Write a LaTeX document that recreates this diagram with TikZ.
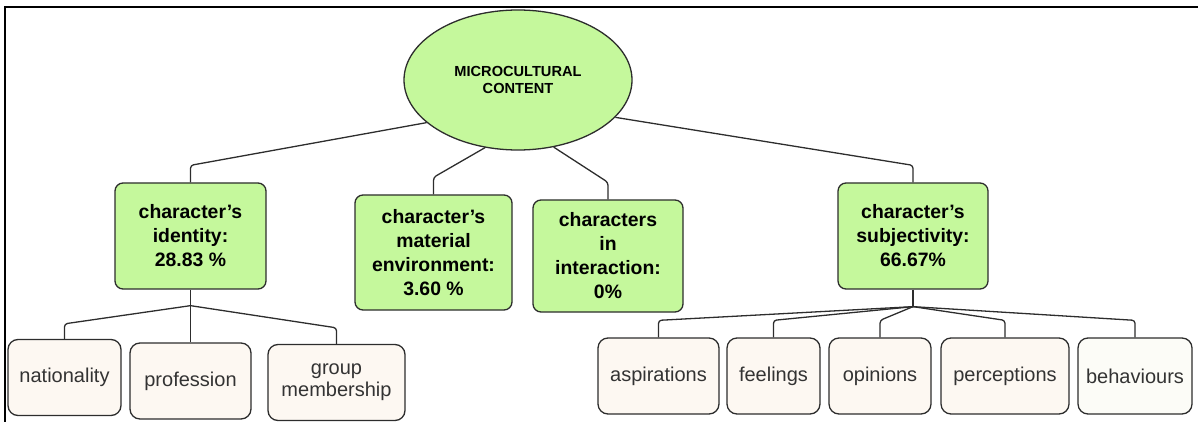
\documentclass[tikz,border=0pt]{standalone}
\usepackage{fontspec}
\setmainfont{Liberation Sans}
\usetikzlibrary{shapes,positioning}
\definecolor{ideagreen}{RGB}{197,248,156}
\definecolor{itemcream}{RGB}{253,248,242}
\definecolor{itemwhite}{RGB}{252,252,247}
\definecolor{edgegray}{RGB}{45,45,45}
\tikzstyle{branch} = [draw, edgegray, line width=0.65pt, rounded corners=1.5pt]
\tikzstyle{topic} = [ellipse, draw=edgegray, fill=ideagreen, line width=0.65pt, minimum width=114pt, minimum height=70pt, inner sep=0pt, align=center, font=\fontsize{7.3}{8.5}\selectfont\bfseries]
\tikzstyle{theme} = [rectangle, draw=edgegray, fill=ideagreen, rounded corners=4pt, line width=0.65pt, inner sep=0pt, align=center, font=\fontsize{9.7}{12}\selectfont\bfseries]
\tikzstyle{facet} = [rectangle, draw=edgegray, fill=itemcream, rounded corners=5pt, line width=0.65pt, inner sep=0pt, minimum height=38pt, align=center, text=black!80, font=\fontsize{10}{11}\selectfont]

\begin{document}
\begin{tikzpicture}[x=0.5pt, y=-0.5pt]
	\useasboundingbox (0,0) rectangle (1198,422);
	\draw [line width=1pt] (5,422) -- (5,7) -- (1198,7);
	\node [topic] (content) at (518,80) {MICROCULTURAL\\CONTENT};
	\node [theme, minimum width=75.5pt, minimum height=53pt] (identity) at (190.5,236) {character’s\\identity:\\28.83 \%};
	\node [theme, minimum width=78.5pt, minimum height=57.5pt] (material) at (433.5,252.5) {character’s\\material\\environment:\\3.60 \%};
	\node [theme, minimum width=75pt, minimum height=56pt] (interaction) at (608,256) {characters\\in\\interaction:\\0\%};
	\node [theme, minimum width=75pt, minimum height=53pt] (subjectivity) at (913,236) {character’s\\subjectivity:\\66.67\%};
	\node [facet, minimum width=56.5pt] (nationality) at (64.5,377.5) {nationality};
	\node [facet, minimum width=60.5pt] (profession) at (190.5,381) {profession};
	\node [facet, minimum width=68.5pt] (group) at (336.5,382.5) {group\\membership};
	\node [facet, minimum width=60.5pt] (aspirations) at (658.5,376) {aspirations};
	\node [facet, minimum width=46.5pt, right of=aspirations, node distance=57.5pt] (feelings) {feelings};
	\node [facet, minimum width=51pt, right of=feelings, node distance=53.25pt] (opinions) {opinions};
	\node [facet, minimum width=64pt, right of=opinions, node distance=62.5pt] (perceptions) {perceptions};
	\node [facet, minimum width=57pt, fill=itemwhite, right of=perceptions, node distance=65pt] (behaviours) {behaviours};
	\coordinate (idjoin) at ([yshift=-8pt]identity.south);
	\coordinate (sbjoin) at ([yshift=-8.5pt]subjectivity.south);
	\path [branch] (identity.north) -- ++(0,-17) -- (content.205);
	\path [branch] (material.north) -- ++(0,-17) -- (content.244);
	\path [branch] (interaction.north) -- ++(0,-17) -- (content.298);
	\path [branch] (subjectivity.north) -- ++(0,-17) -- (content.339);
	\path [branch] (identity) -- (idjoin);
	\path [branch] (nationality.north) -- ++(0,-15) -- (idjoin);
	\path [branch] (profession) -- (idjoin);
	\path [branch] (group.north) -- ++(0,-16) -- (idjoin);
	\path [branch] (subjectivity) -- (sbjoin);
	\foreach \kind in {aspirations,feelings,opinions,perceptions,behaviours}
		\path [branch] (\kind.north) -- ++(0,-17) -- (sbjoin);
\end{tikzpicture}
\end{document}
